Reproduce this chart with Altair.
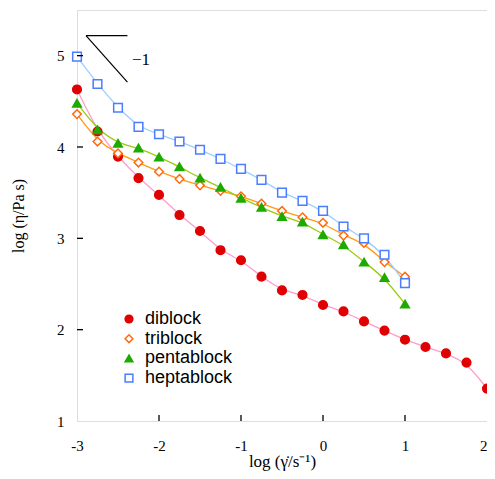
import altair as alt
import pandas as pd

series_names = ["diblock", "triblock", "pentablock", "heptablock"]

x_di = [-3, -2.75, -2.5, -2.25, -2.0, -1.75, -1.5, -1.25, -1.0, -0.75, -0.5, -0.25, 0, 0.25, 0.5, 0.75, 1.0, 1.25, 1.5, 1.75, 2.0]
y_di = [4.63, 4.17, 3.895, 3.66, 3.475, 3.255, 3.08, 2.87, 2.76, 2.58, 2.43, 2.38, 2.27, 2.20, 2.09, 1.99, 1.89, 1.81, 1.74, 1.64, 1.355]

x_multi = [-3, -2.75, -2.5, -2.25, -2.0, -1.75, -1.5, -1.25, -1.0, -0.75, -0.5, -0.25, 0, 0.25, 0.5, 0.75, 1.0]
y_tri = [4.36, 4.06, 3.93, 3.83, 3.73, 3.65, 3.58, 3.52, 3.46, 3.38, 3.30, 3.23, 3.17, 3.03, 2.95, 2.74, 2.58]
y_penta = [4.48, 4.19, 4.04, 3.99, 3.89, 3.785, 3.66, 3.56, 3.44, 3.34, 3.24, 3.18, 3.04, 2.93, 2.74, 2.57, 2.28]
y_hepta = [4.99, 4.69, 4.43, 4.22, 4.14, 4.06, 3.97, 3.87, 3.76, 3.64, 3.50, 3.41, 3.30, 3.13, 3.00, 2.82, 2.51]

marker_stroke = ["#e00000", "#ff6a10", "#1eaa00", "#4a7dff"]
marker_fill = ["#e00000", "#ffffff", "#1eaa00", "#ffffff"]
marker_shape = ["circle", "diamond", "triangle-up", "square"]
line_colors = ["#ff9ccc", "#ff9a10", "#9acc10", "#9ccfff"]

x_ticks = [-2, -1, 0, 1]
y_ticks = [2, 3, 4, 5]

slope_x = [-2.89, -2.89]
slope_y = [5.22, 5.22]
slope_x2 = [-2.385, -2.385]
slope_y2 = [5.22, 4.71]
slope_label = "\u22121"
slope_label_x = -2.22
slope_label_y = 4.95

rows = []
for name, xs, ys in [("diblock", x_di, y_di), ("triblock", x_multi, y_tri),
                     ("pentablock", x_multi, y_penta), ("heptablock", x_multi, y_hepta)]:
    for xv, yv in zip(xs, ys):
        rows.append({"series": name, "x": xv, "y": yv})
df = pd.DataFrame(rows)

xscale = alt.Scale(domain=[-3, 2], nice=False, zero=False)
yscale = alt.Scale(domain=[1, 5.5], nice=False, zero=False)

X = alt.X("x:Q", scale=xscale,
          axis=alt.Axis(values=[-3, -2, -1, 0, 1, 2], tickSize=0, domain=False, grid=False,
                        labelFlush=False,
                        labelAlign={"condition": {"test": "datum.value == 2", "value": "right"},
                                    "value": "center"},
                        labelExpr="'' + datum.value", labelFont="Liberation Serif",
                        labelFontSize=15, labelPadding=17, labelColor="#000",
                        title="log (\u03b3\u0307/s\u207b\u00b9)", titleFont="Liberation Serif",
                        titleFontSize=17, titleFontWeight="normal", titlePadding=0,
                        titleColor="#000"))
Y = alt.Y("y:Q", scale=yscale,
          axis=alt.Axis(values=[1, 2, 3, 4, 5], tickSize=0, domain=False, grid=False,
                        labelFlush=False,
                        labelExpr="'' + datum.value", labelFont="Liberation Serif",
                        labelFontSize=15, labelPadding=13, labelColor="#000",
                        title="log (\u03b7/Pa s)", titleFont="Liberation Serif",
                        titleFontSize=16, titleFontWeight="normal", titlePadding=30,
                        titleColor="#000"))

layers = []
for name, col in zip(series_names, line_colors):
    layers.append(
        alt.Chart(df).transform_filter(alt.datum.series == name)
        .mark_line(interpolate="basis", strokeWidth=1.3, color=col)
        .encode(x=X, y=Y, order="x:Q")
    )

legend = alt.Legend(title=None, orient="none", legendX=43, legendY=300,
                    labelFont="Liberation Sans", labelFontSize=18, labelColor="#000",
                    symbolSize=60, symbolStrokeWidth=1.5, labelOffset=7, rowPadding=1.7,
                    symbolOpacity=1)

points = alt.Chart(df).mark_point(opacity=1, strokeWidth=1.5, size=75).encode(
    x=X, y=Y,
    shape=alt.Shape("series:N", scale=alt.Scale(domain=series_names, range=marker_shape), legend=legend),
    stroke=alt.Stroke("series:N", scale=alt.Scale(domain=series_names, range=marker_stroke), legend=legend),
    fill=alt.Fill("series:N", scale=alt.Scale(domain=series_names, range=marker_fill), legend=legend),
)
layers.append(points)

tick_x_df = pd.DataFrame({"t": x_ticks})
tick_y_df = pd.DataFrame({"t": y_ticks})
xt = alt.Chart(tick_x_df).mark_rule(color="#000", strokeWidth=1.3).encode(
    x=alt.X("t:Q", scale=xscale), y=alt.value(411), y2=alt.value(405))
yt = alt.Chart(tick_y_df).mark_rule(color="#000", strokeWidth=1.3).encode(
    y=alt.Y("t:Q", scale=yscale), x=alt.value(0), x2=alt.value(6))
layers += [xt, yt]

slope_df = pd.DataFrame({"x": slope_x, "y": slope_y, "x2": slope_x2, "y2": slope_y2})
slope = alt.Chart(slope_df).mark_rule(color="#000", strokeWidth=1.2).encode(
    x=alt.X("x:Q", scale=xscale), y=alt.Y("y:Q", scale=yscale), x2="x2:Q", y2="y2:Q")
label_df = pd.DataFrame({"x": [slope_label_x], "y": [slope_label_y], "t": [slope_label]})
slope_text = alt.Chart(label_df).mark_text(font="Liberation Serif", fontSize=17, color="#000",
                                           align="center", baseline="middle").encode(
    x=alt.X("x:Q", scale=xscale), y=alt.Y("y:Q", scale=yscale), text="t:N")
layers += [slope, slope_text]

chart = alt.layer(*layers).properties(
    width=410, height=411,
    autosize=alt.AutoSizeParams(type="none"),
    padding={"left": 69, "top": 2, "right": 0, "bottom": 50},
).configure_view(stroke="#000", strokeWidth=1.5).configure(background="white")

chart.save("out.html", embed_options={"renderer": "svg", "actions": False})
